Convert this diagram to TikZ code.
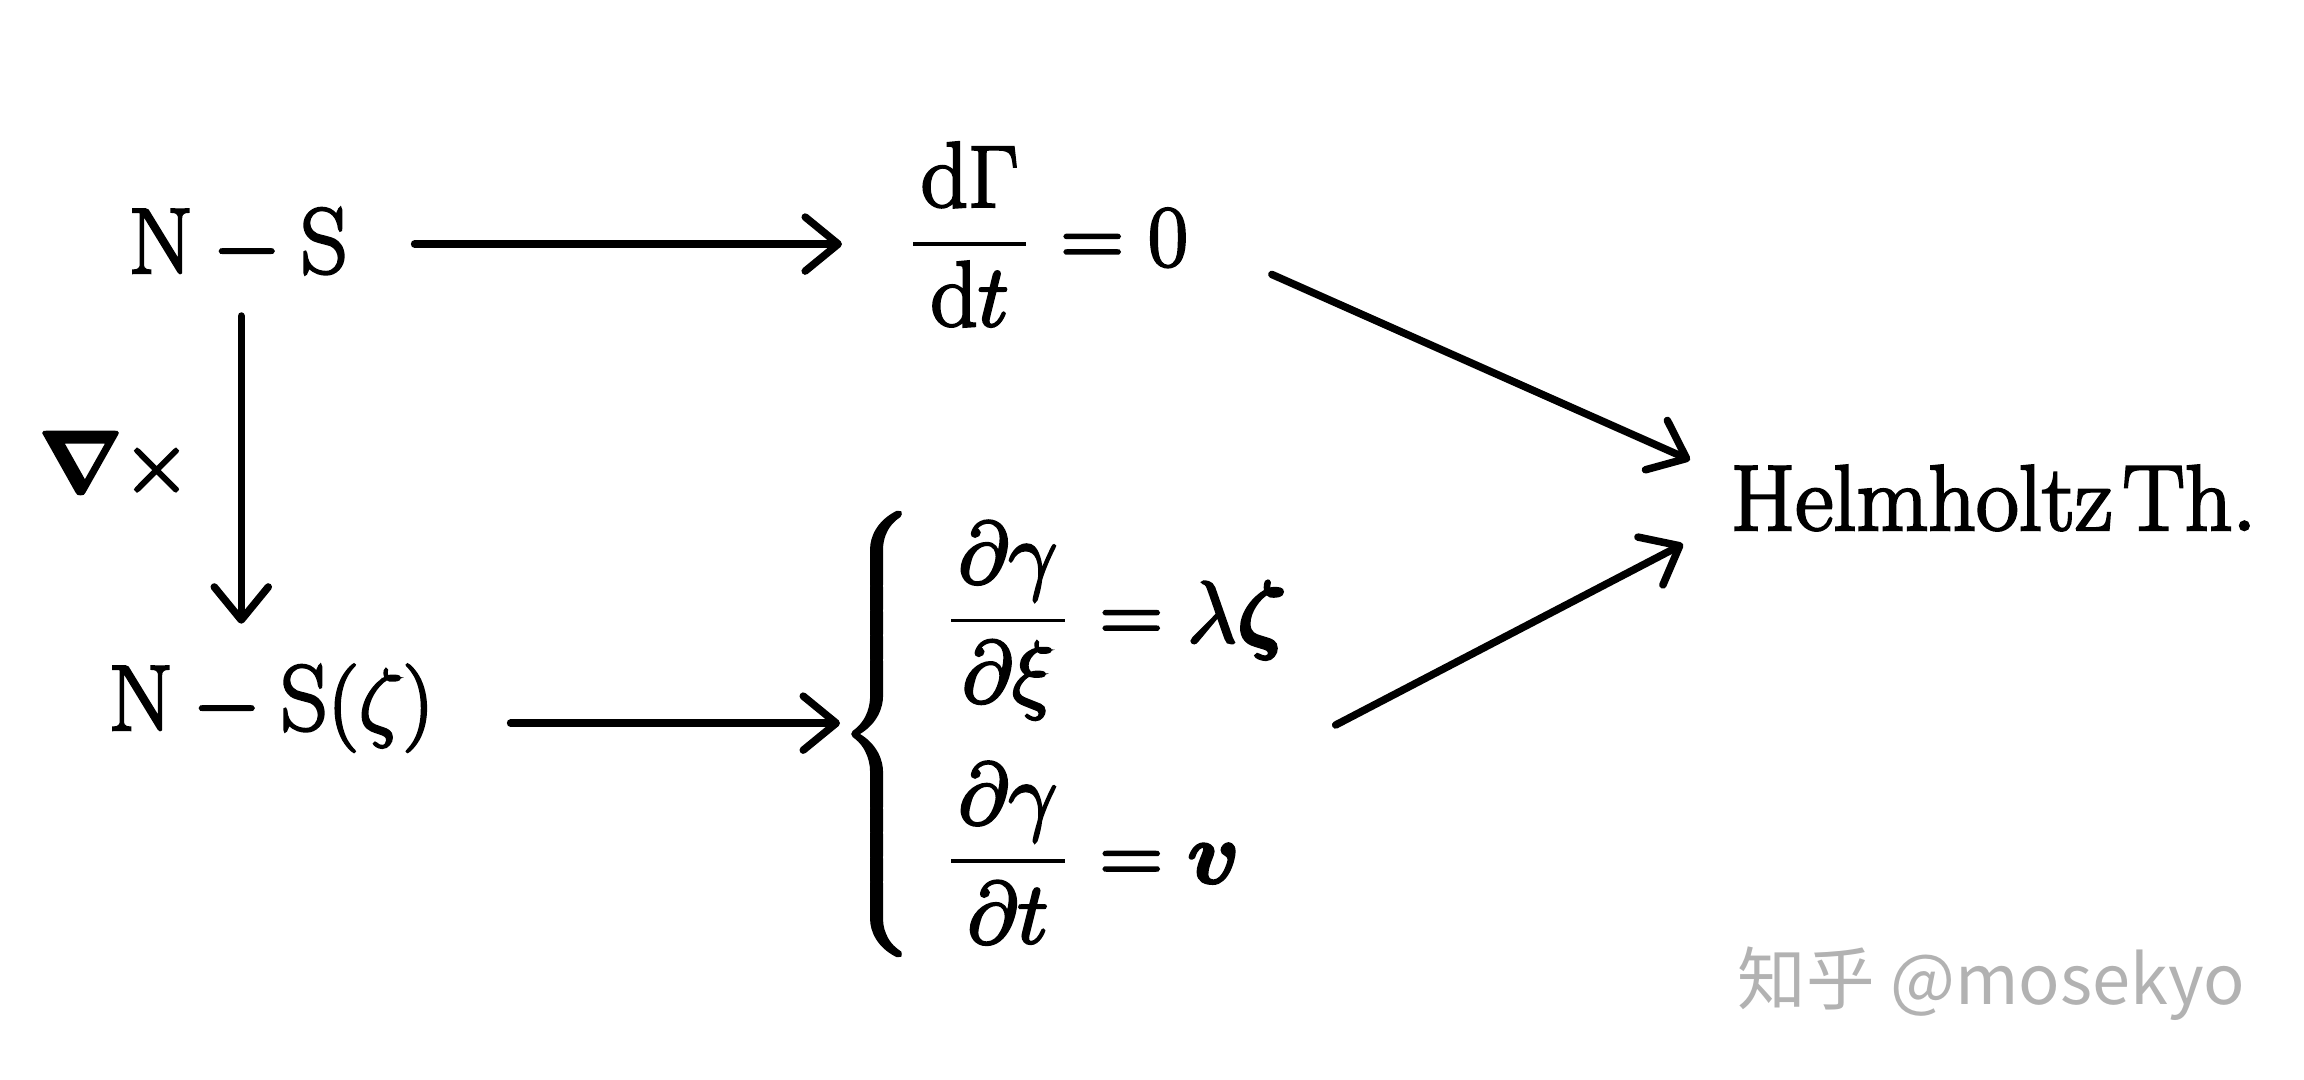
\documentclass[tikz,border=0pt]{standalone}
\usepackage{amsmath,bm,graphicx}
\usepackage{fontspec}
\newfontfamily\cjkfont{Noto Sans CJK SC}
\usetikzlibrary{arrows.meta}
\newcommand\heavyink{\special{pdf:literal direct 2 Tr 0.7 w}}
\newcommand\myfrac[2]{\frac{\mkern1.5mu#1\mkern1.5mu}{\mkern1.5mu#2\mkern1.5mu}}
\setlength{\nulldelimiterspace}{3pt}
\tikzset{
  lbl/.style={inner sep=0pt, font=\fontsize{26.5}{32}\selectfont, execute at begin node=\heavyink},
  arr/.style={line width=0.075cm, line cap=round,
    -{Straight Barb[length=0.33cm, width=0.54cm, round]}},
  wmark/.style={inner sep=0pt, text=black!30, font=\fontsize{19.5}{24}\cjkfont},
}
\begin{document}
\begin{tikzpicture}[x=0.01cm, y=-0.01cm]
\useasboundingbox (0,0) rectangle (2304,1080);
\node[lbl, anchor=base west] (ns) at (128,273) {$\mathrm{N}-\mathrm{S}$};
\node[lbl, anchor=base west] (dg) at (902,266) {$\displaystyle\myfrac{\mathrm{d}\Gamma}{\mathrm{d}t}=0$};
\node[lbl, anchor=base west] (nsz) at (108,730) {$\mathrm{N}-\mathrm{S}(\zeta)$};
\node[lbl, anchor=base west] (curl) at (38,492) {$\boldsymbol{\nabla}\times$};
\node[lbl, anchor=west] (sys) at (837,734) {$\displaystyle\scalebox{1}[0.94]{$\left\{\vrule height 2.7em depth 2.2em width 0pt\right.$}\mkern3mu\begin{aligned}\myfrac{\partial\gamma}{\partial\xi}&=\lambda\boldsymbol{\zeta}\\[0.32em]\myfrac{\partial\gamma}{\partial t}&=\boldsymbol{v}\end{aligned}$};
\node[lbl, anchor=base west] (hz) at (1730,530) {$\mathrm{Helmholtz\mkern2mu Th.}$};
\node[wmark, anchor=base west] (wm) at (1737,1004) {知乎 @mosekyo};
\draw[arr, shorten <=0.66cm, shorten >=0.60cm] (ns.east) -- (ns.east -| dg.west);
\draw[arr, shorten <=0.35cm, shorten >=0.40cm] ([xshift=0.03cm]ns.south) -- ([xshift=0.03cm]ns.south |- nsz.north);
\draw[arr, shorten <=0.76cm, shorten >=-0.03cm] ([yshift=-0.15cm]nsz.east) -- ([yshift=-0.15cm]nsz.east -| sys.west);
\draw[arr] ([shift={(83,40)}]dg.east) -- ([shift={(-40,-38)}]hz.west);
\draw[arr] ([shift={(48,-9)}]sys.east) -- ([shift={(-47,46)}]hz.west);
\end{tikzpicture}
\end{document}
